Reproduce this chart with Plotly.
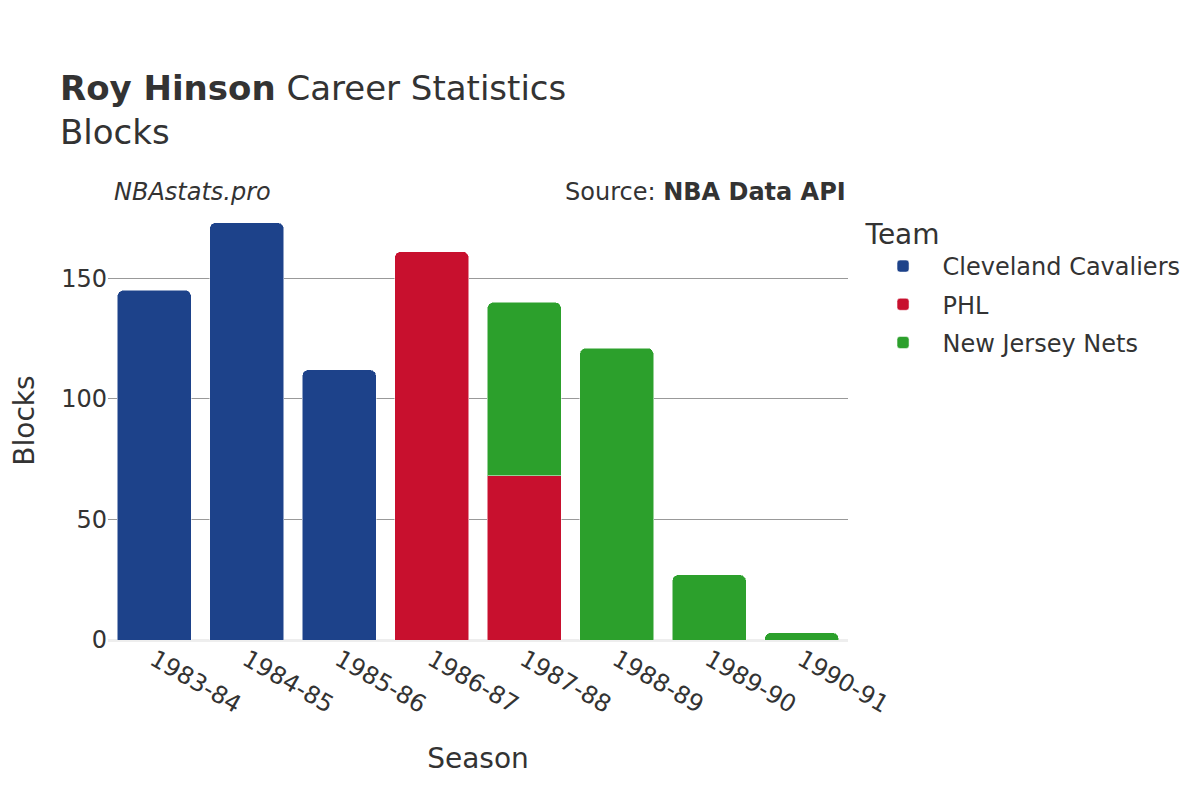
import plotly.graph_objects as go

seasons = ["1983-84", "1984-85", "1985-86", "1986-87", "1987-88", "1988-89", "1989-90", "1990-91"]
cle_seasons = ["1983-84", "1984-85", "1985-86"]
cle_blocks = [145, 173, 112]
phl_seasons = ["1986-87", "1987-88"]
phl_blocks = [161, 68]
njn_seasons = ["1987-88", "1988-89", "1989-90", "1990-91"]
njn_blocks = [72, 121, 27, 3]

teams = [
    ("Cleveland Cavaliers", cle_seasons, cle_blocks, "#1d428a"),
    ("PHL", phl_seasons, phl_blocks, "#c8102e"),
    ("New Jersey Nets", njn_seasons, njn_blocks, "#2ca02c"),
]

fig = go.Figure()
for name, xs, ys, col in teams:
    fig.add_trace(go.Bar(
        x=xs, y=ys, name=name, legendgroup=name,
        marker=dict(color=col, line=dict(color="rgba(255,255,255,0.5)", width=1)),
    ))

font_fam = "DejaVu Sans"
fig.update_layout(
    width=1200, height=800,
    barmode="stack",
    barcornerradius=6,
    bargap=0.2,
    paper_bgcolor="white", plot_bgcolor="white",
    font=dict(family=font_fam, color="#333333", size=24),
    margin=dict(l=100, r=360, t=193, b=168),
    title=dict(
        text="<b>Roy Hinson</b> Career Statistics<br>Blocks",
        x=0.0433, xanchor="left", xref="container",
        y=0.885, yanchor="middle", yref="container",
        font=dict(size=34, color="#333333"),
    ),
    legend=dict(
        title=dict(text="Team", font=dict(size=28)),
        font=dict(size=24),
        traceorder="grouped",
        tracegroupgap=4,
        x=1.021, xanchor="left", y=0.985, yanchor="top",
        itemwidth=69,
    ),
    xaxis=dict(
        categoryorder="array", categoryarray=seasons,
        tickangle=30, showgrid=False, automargin=False,
        title=dict(text="Season", font=dict(size=28), standoff=30),
        tickfont=dict(size=24),
    ),
    yaxis=dict(
        range=[0, 182], automargin=False,
        showgrid=True, gridcolor="#999999", gridwidth=1,
        zeroline=True, zerolinecolor="#eeeeee", zerolinewidth=3,
        tickvals=[0, 50, 100, 150],
        title=dict(text="Blocks", font=dict(size=28), standoff=30),
        tickfont=dict(size=24),
    ),
    annotations=[
        dict(text="<i>NBAstats.pro</i>", x=0.005, xref="paper", xanchor="left",
             y=1.02, yref="paper", yanchor="middle", showarrow=False,
             font=dict(size=24, color="#333333")),
        dict(text="Source: <b>NBA Data API</b>", x=1.0, xref="paper", xanchor="right",
             y=1.02, yref="paper", yanchor="middle", showarrow=False,
             font=dict(size=24, color="#333333")),
    ],
)
fig.write_html("out.html")
